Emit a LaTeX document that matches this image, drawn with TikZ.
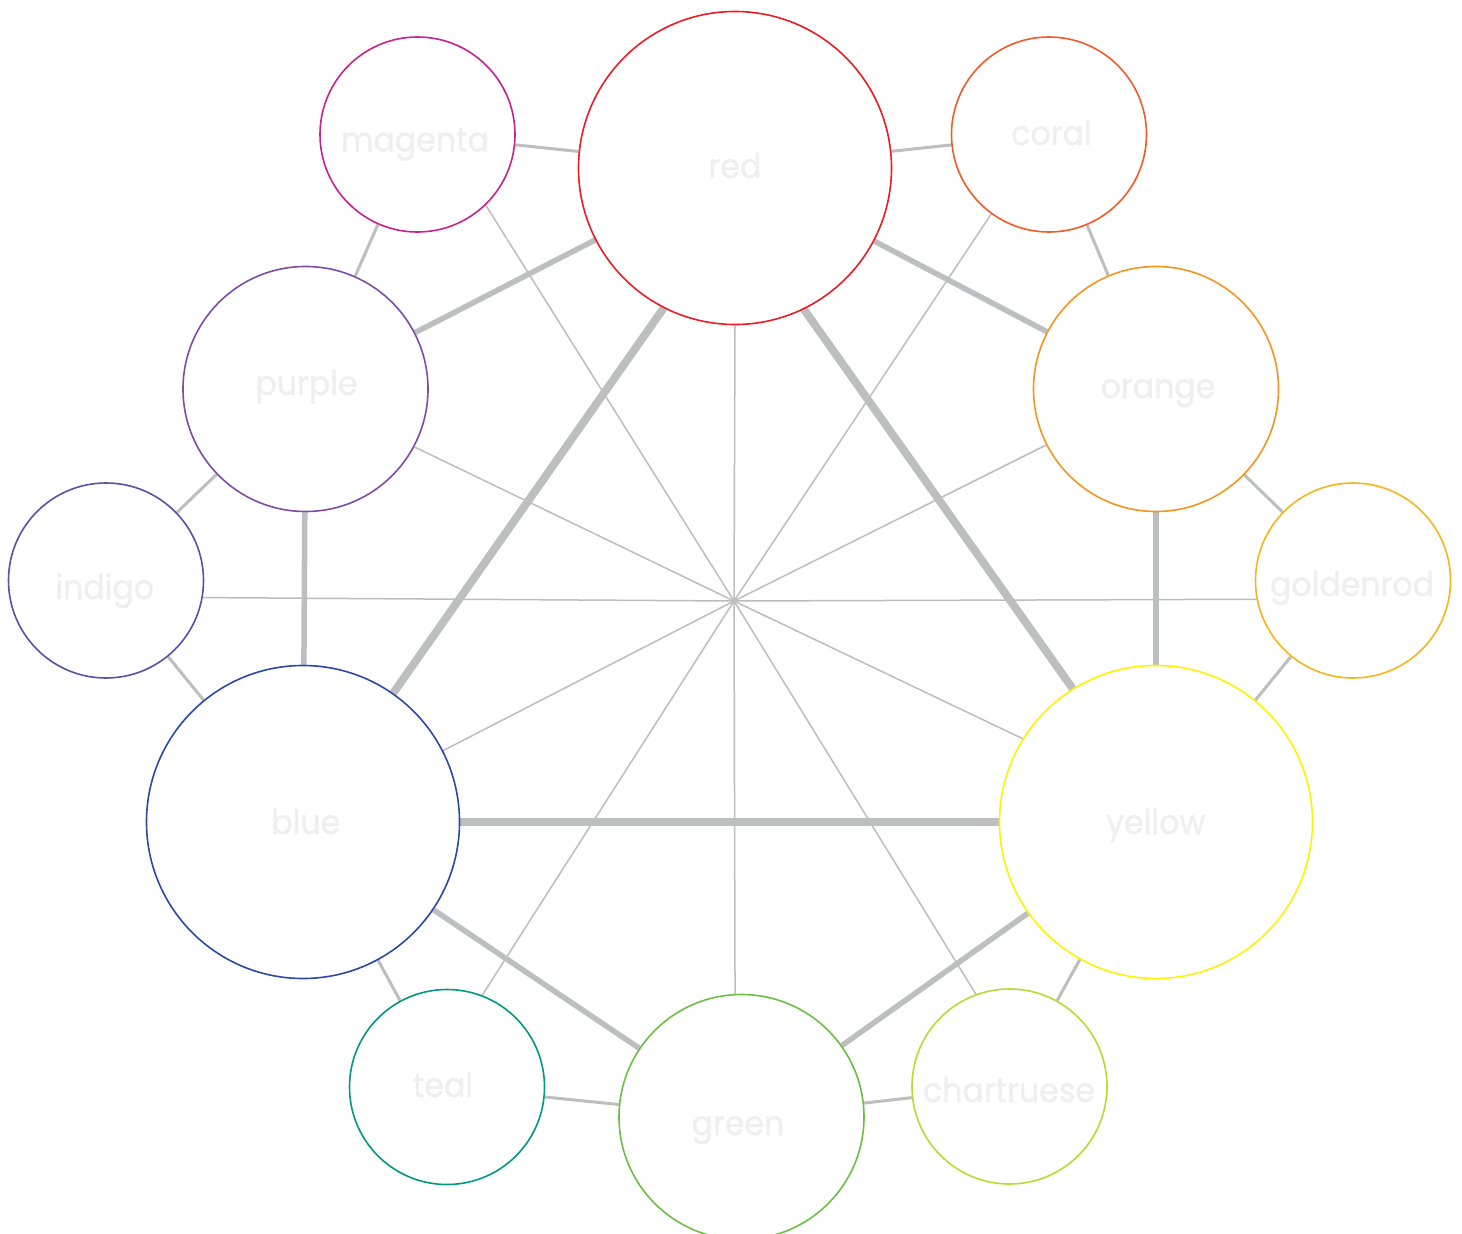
\documentclass[tikz,border=0pt]{standalone}
\usepackage{fontspec}
\setmainfont{Poppins}
\newfontfamily\lblfont{Poppins}[FakeBold=0.8,FakeStretch=0.93]
\usetikzlibrary{backgrounds}
\definecolor{cRed}{HTML}{ED1C24}
\definecolor{cMagenta}{HTML}{C8228C}
\definecolor{cCoral}{HTML}{F15A29}
\definecolor{cOrange}{HTML}{F7941D}
\definecolor{cGolden}{HTML}{F7B41C}
\definecolor{cYellow}{HTML}{FFF200}
\definecolor{cChart}{HTML}{BED732}
\definecolor{cGreen}{HTML}{6CBE45}
\definecolor{cTeal}{HTML}{009884}
\definecolor{cBlue}{HTML}{2C48A6}
\definecolor{cIndigo}{HTML}{5453A6}
\definecolor{cPurple}{HTML}{7E4CA5}
\definecolor{edgegray}{HTML}{BCBEC0}
\definecolor{spokegray}{HTML}{BDBDBD}
\definecolor{labelgray}{HTML}{EFEFEF}
\begin{document}
\begin{tikzpicture}[x=1pt,y=-1pt,
  disc/.style={circle,draw,fill=white,line width=1.6pt,inner sep=0pt},
  bigdisc/.style={disc,minimum size=313pt},
  middisc/.style={disc,minimum size=245pt},
  smalldisc/.style={disc,minimum size=195pt},
  lbl/.style={anchor=base,text=labelgray,inner sep=0pt,font=\lblfont\fontsize{34}{40}\selectfont},
  primedge/.style={draw=edgegray,line width=8pt},
  secedge/.style={draw=edgegray,line width=5.5pt},
  teredge/.style={draw=edgegray,line width=3pt},
  spokeline/.style={draw=spokegray,line width=1.5pt}]
\useasboundingbox (0,0) rectangle (1462,1234);
% circles
\node[bigdisc,draw=cRed] (red) at (735,168) {};
\node[smalldisc,draw=cMagenta] (magenta) at (417.5,134.5) {};
\node[smalldisc,draw=cCoral] (coral) at (1049,134.5) {};
\node[middisc,draw=cPurple] (purple) at (305.5,389) {};
\node[middisc,draw=cOrange] (orange) at (1156,389) {};
\node[smalldisc,draw=cIndigo] (indigo) at (106,580.5) {};
\node[smalldisc,draw=cGolden] (goldenrod) at (1353,580.5) {};
\node[bigdisc,draw=cBlue] (blue) at (303,822) {};
\node[bigdisc,draw=cYellow] (yellow) at (1156,822) {};
\node[smalldisc,draw=cTeal] (teal) at (447,1087) {};
\node[middisc,draw=cGreen] (green) at (741.5,1117) {};
\node[smalldisc,draw=cChart] (chartruese) at (1009.5,1086.5) {};
\coordinate (hub) at (734,601);
% labels
\node[lbl] (lred) at (735,178) {red};
\node[lbl] (lmagenta) at (415,151.5) {magenta};
\node[lbl] (lcoral) at (1051.5,145) {coral};
\node[lbl] (lpurple) at (306.5,395) {purple};
\node[lbl] (lorange) at (1158,398) {orange};
\node[lbl] (lindigo) at (104.7,599) {indigo};
\node[lbl] (lgolden) at (1352,596) {goldenrod};
\node[lbl] (lblue) at (305.8,834) {blue};
\node[lbl] (lyellow) at (1155.8,834) {yellow};
\node[lbl] (lteal) at (443,1097) {teal};
\node[lbl] (lgreen) at (738,1135) {green};
\node[lbl] (lchart) at (1009,1102) {chartruese};
\begin{pgfonlayer}{background}
\fill[white] (0,0) rectangle (1462,1234);
% spokes
\draw[spokeline] (hub) -- (red.270);
\draw[spokeline] (hub) -- (magenta.-46.6);
\draw[spokeline] (hub) -- (coral.-126.8);
\draw[spokeline] (hub) -- (purple.-28);
\draw[spokeline] (hub) -- (orange.-153.4);
\draw[spokeline] (hub) -- (indigo.-10.7);
\draw[spokeline] (hub) -- (goldenrod.-169);
\draw[spokeline] (hub) -- (blue.27.9);
\draw[spokeline] (hub) -- (yellow.148.5);
\draw[spokeline] (hub) -- (teal.69);
\draw[spokeline] (hub) -- (chartruese.110.3);
\draw[spokeline] (hub) -- (green.93.5);
% primary triangle
\draw[primedge] (red.243) -- (blue.55);
\draw[primedge] (red.-64.4) -- (yellow.122.5);
\draw[primedge] (blue) -- (yellow);
% secondary
\draw[secedge] (red) -- (purple);
\draw[secedge] (red) -- (orange);
\draw[secedge] (purple) -- (blue);
\draw[secedge] (orange) -- (yellow);
\draw[secedge] (blue) -- (green);
\draw[secedge] (yellow) -- (green);
% tertiary
\draw[teredge] (magenta) -- (red);
\draw[teredge] (red) -- (coral);
\draw[teredge] (magenta) -- (purple);
\draw[teredge] (coral) -- (orange);
\draw[teredge] (purple) -- (indigo);
\draw[teredge] (orange) -- (goldenrod);
\draw[teredge] (indigo) -- (blue);
\draw[teredge] (goldenrod) -- (yellow);
\draw[teredge] (blue) -- (teal);
\draw[teredge] (yellow) -- (chartruese);
\draw[teredge] (teal) -- (green);
\draw[teredge] (green) -- (chartruese);
\end{pgfonlayer}
\end{tikzpicture}
\end{document}
